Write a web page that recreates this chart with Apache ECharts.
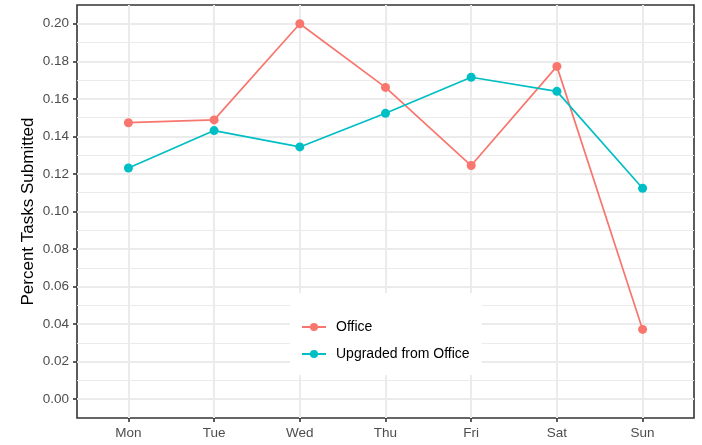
<!DOCTYPE html>
<html>
<head>
<meta charset="utf-8">
<script src="https://cdn.jsdelivr.net/npm/echarts@6/dist/echarts.min.js"></script>
<style>
  html, body { margin: 0; padding: 0; background: #fff; }
  #chart { width: 702px; height: 445px; }
</style>
</head>
<body>
<div id="chart"></div>
<script>
// Share of tasks submitted per weekday
const days = ['Mon', 'Tue', 'Wed', 'Thu', 'Fri', 'Sat', 'Sun'];
const officeShare = [0.1473, 0.1488, 0.2000, 0.1661, 0.1245, 0.1773, 0.0372];
const upgradedShare = [0.1232, 0.1431, 0.1344, 0.1523, 0.1715, 0.1640, 0.1124];
const yMajorTicks = [0, 0.02, 0.04, 0.06, 0.08, 0.10, 0.12, 0.14, 0.16, 0.18, 0.20];
const yMinorTicks = [0.01, 0.03, 0.05, 0.07, 0.09, 0.11, 0.13, 0.15, 0.17, 0.19];

const dayIndex = days.map((d, i) => i);
const font = 'Liberation Sans, Arial, Helvetica, sans-serif';

const chart = echarts.init(document.getElementById('chart'), null, { renderer: 'canvas' });

chart.setOption({
  animation: false,
  backgroundColor: '#ffffff',
  grid: { left: 77, top: 5, right: 8, bottom: 27, show: true, borderColor: '#333333', borderWidth: 1.6, backgroundColor: '#ffffff' },
  xAxis: {
    type: 'value',
    min: -0.6,
    max: 6.6,
    axisLine: { show: false, onZero: false },
    axisTick: { show: true, customValues: dayIndex, length: 4, lineStyle: { color: '#333333', width: 1.6 } },
    axisLabel: {
      customValues: dayIndex,
      formatter: v => days[Math.round(v)],
      color: '#4d4d4d', fontSize: 13.5, fontFamily: font, margin: 8
    },
    splitLine: { show: true, lineStyle: { color: '#ebebeb', width: 2 } }
  },
  yAxis: [
    {
      type: 'value',
      min: -0.01,
      max: 0.21,
      axisLine: { show: false, onZero: false },
      axisTick: { show: true, customValues: yMajorTicks, length: 4, lineStyle: { color: '#333333', width: 1.6 } },
      axisLabel: {
        customValues: yMajorTicks,
        formatter: v => v.toFixed(2),
        color: '#4d4d4d', fontSize: 13.5, fontFamily: font, margin: 8
      },
      splitLine: { show: true, lineStyle: { color: '#ebebeb', width: 2 } },
      name: 'Percent Tasks Submitted',
      nameLocation: 'middle',
      nameGap: 40,
      nameMoveOverlap: false,
      nameTextStyle: { color: '#000000', fontSize: 17, fontFamily: font }
    },
    {
      type: 'value',
      min: -0.01,
      max: 0.21,
      position: 'left',
      axisLine: { show: false, onZero: false },
      axisTick: { show: false, customValues: yMinorTicks },
      axisLabel: { show: false, customValues: yMinorTicks },
      splitLine: { show: true, lineStyle: { color: '#ebebeb', width: 1 } }
    }
  ],
  legend: {
    orient: 'vertical',
    left: 290,
    top: 293,
    backgroundColor: '#ffffff',
    padding: [26, 12, 13, 11],
    itemWidth: 24,
    itemHeight: 10,
    itemGap: 11,
    textStyle: { color: '#000000', fontSize: 14, fontFamily: font, padding: [0, 0, 0, 5], lineHeight: 16 },
    data: ['Office', 'Upgraded from Office']
  },
  series: [
    {
      name: 'Office',
      type: 'line',
      data: officeShare.map((v, i) => [i, v]),
      color: '#F8766D',
      lineStyle: { width: 1.7 },
      symbol: 'circle',
      symbolSize: 9,
      z: 3
    },
    {
      name: 'Upgraded from Office',
      type: 'line',
      data: upgradedShare.map((v, i) => [i, v]),
      color: '#00BFC4',
      lineStyle: { width: 1.7 },
      symbol: 'circle',
      symbolSize: 9,
      z: 4
    }
  ]
});
</script>
</body>
</html>
